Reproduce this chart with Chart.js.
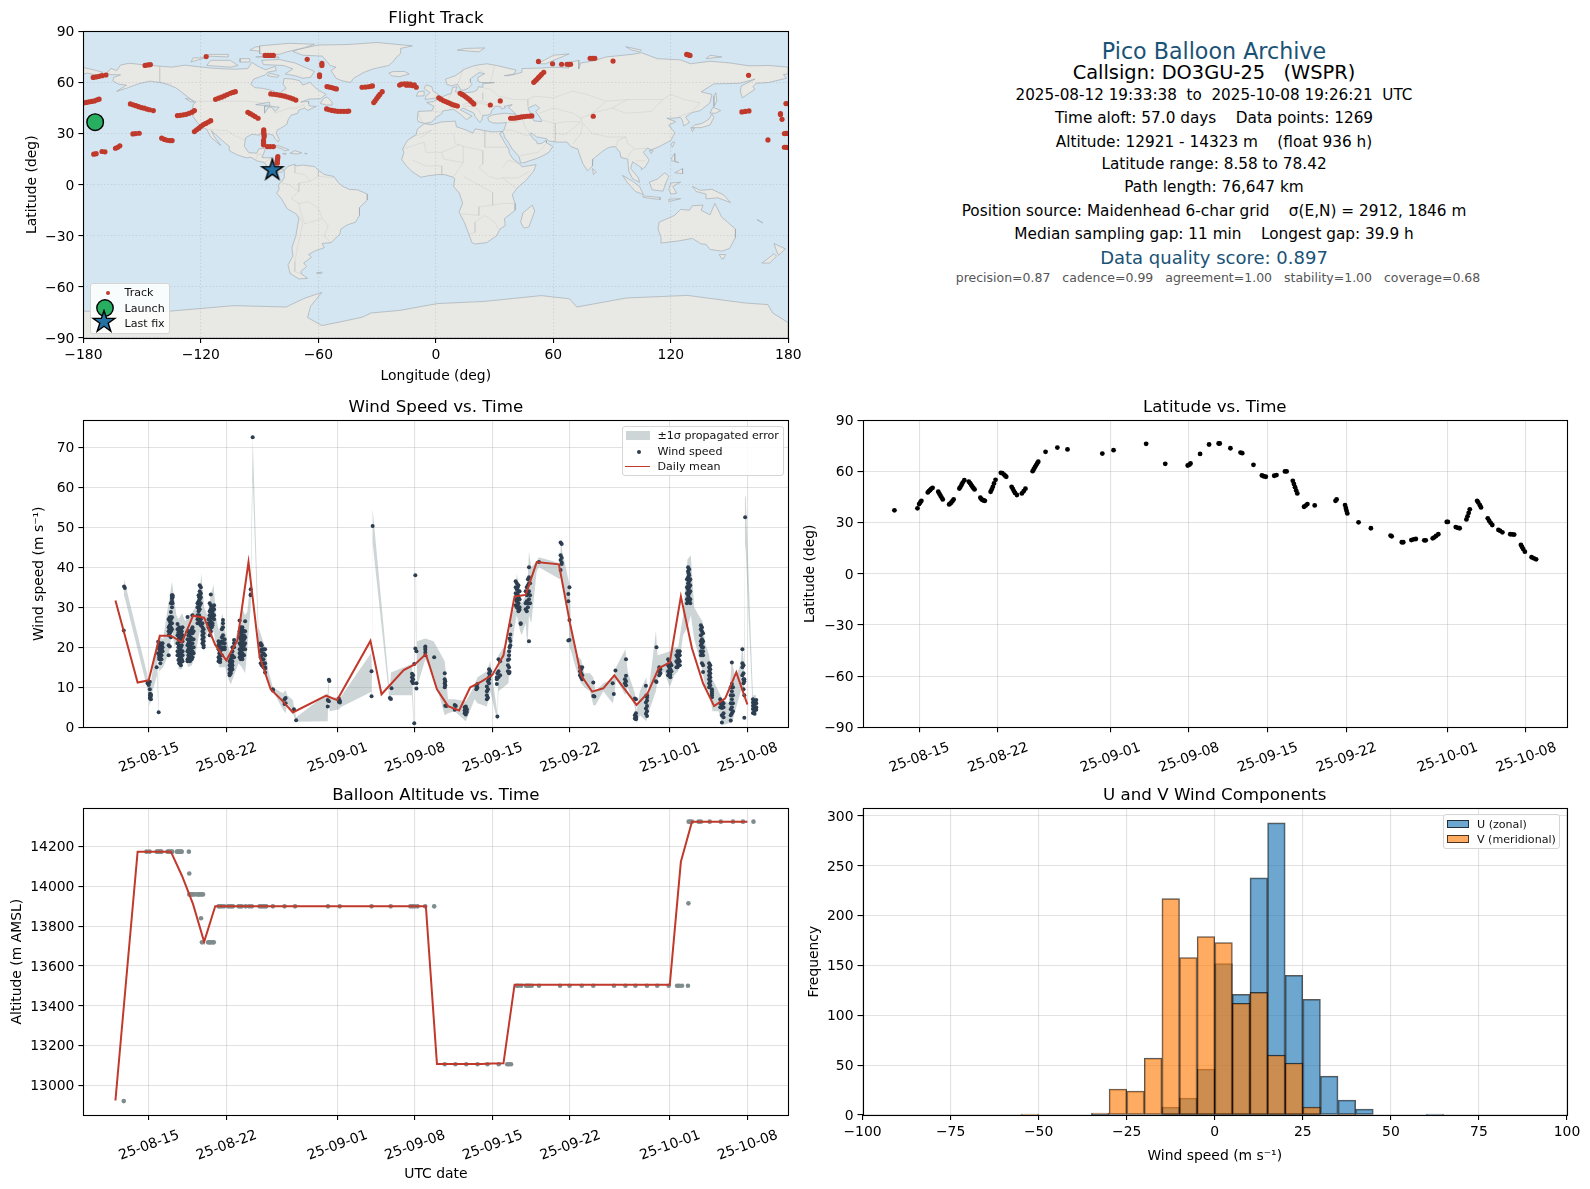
<!DOCTYPE html>
<html><head><meta charset="utf-8">
<script src="https://cdn.jsdelivr.net/npm/chart.js@4/dist/chart.umd.js"></script>
<style>
html,body{margin:0;padding:0;background:#fff;width:1590px;height:1189px;overflow:hidden;font-family:"DejaVu Sans",sans-serif;color:#000}
canvas{position:absolute}
.t{position:absolute;left:1214px;transform:translate(-50%,-50%);white-space:pre;line-height:1}
.legend{position:absolute;background:rgba(255,255,255,.85);border:1px solid #d5d5d5;border-radius:3px;box-sizing:border-box;font-size:11.1px;color:#111}
.legend span{position:absolute;white-space:pre;transform:translateY(-50%);line-height:1}
.legend i,.legend svg{position:absolute;display:block}
</style></head><body>
<canvas id="map"></canvas><canvas id="wind"></canvas><canvas id="lat"></canvas><canvas id="alt"></canvas><canvas id="hist"></canvas>

<div class="t" style="top:50.5px;font-size:22.2px;color:#1a5276">Pico Balloon Archive</div>
<div class="t" style="top:73px;font-size:19.4px">Callsign: DO3GU-25   (WSPR)</div>
<div class="t" style="top:95.5px;font-size:15.2px">2025-08-12 19:33:38  to  2025-10-08 19:26:21  UTC</div>
<div class="t" style="top:118.5px;font-size:15.3px">Time aloft: 57.0 days    Data points: 1269</div>
<div class="t" style="top:143px;font-size:15.3px">Altitude: 12921 - 14323 m    (float 936 h)</div>
<div class="t" style="top:164.5px;font-size:15.3px">Latitude range: 8.58 to 78.42</div>
<div class="t" style="top:188px;font-size:15.3px">Path length: 76,647 km</div>
<div class="t" style="top:212px;font-size:15.3px">Position source: Maidenhead 6-char grid    σ(E,N) = 2912, 1846 m</div>
<div class="t" style="top:235px;font-size:15.3px">Median sampling gap: 11 min    Longest gap: 39.9 h</div>
<div class="t" style="top:257.5px;font-size:18px;color:#1a5276">Data quality score: 0.897</div>
<div class="t" style="top:278px;left:1218px;font-size:12.5px;color:#555">precision=0.87   cadence=0.99   agreement=1.00   stability=1.00   coverage=0.68</div>

<div class="legend" style="left:89.5px;top:283px;width:80px;height:50.5px">
 <svg style="left:14px;top:6px" width="6" height="6"><circle cx="3" cy="3" r="2" fill="#c0392b"/></svg>
 <span style="left:34px;top:9px">Track</span>
 <svg style="left:2px;top:14px" width="24" height="20"><circle cx="12" cy="10" r="8.2" fill="#27ae60" stroke="#000" stroke-width="1.4"/></svg>
 <span style="left:34px;top:24.5px">Launch</span>
 <svg style="left:0px;top:25px" width="26" height="24"><polygon points="13,1.5 15.6,9.4 24,9.4 17.2,14.3 19.8,22.2 13,17.3 6.2,22.2 8.8,14.3 2,9.4 10.4,9.4" fill="#2471a3" stroke="#000" stroke-width="1.4"/></svg>
 <span style="left:34px;top:39.5px">Last fix</span>
</div>
<div class="legend" style="left:621.5px;top:425.5px;width:162px;height:50px">
 <i style="left:3px;top:4.5px;width:24px;height:9px;background:rgba(127,145,150,.38)"></i>
 <span style="left:35px;top:9.5px">±1σ propagated error</span>
 <svg style="left:13px;top:22px" width="6" height="6"><circle cx="3" cy="3" r="2" fill="#2c3e50"/></svg>
 <span style="left:35px;top:25px">Wind speed</span>
 <i style="left:2.5px;top:39px;width:25px;height:1.8px;background:#c0392b"></i>
 <span style="left:35px;top:40.5px">Daily mean</span>
</div>
<div class="legend" style="left:1443px;top:814px;width:116.5px;height:34.5px">
 <i style="left:3px;top:5px;width:22px;height:8px;background:rgba(31,119,180,.65);border:1px solid rgba(0,0,0,.7);box-sizing:border-box"></i>
 <span style="left:33px;top:9.5px">U (zonal)</span>
 <i style="left:3px;top:20px;width:22px;height:8px;background:rgba(255,127,14,.65);border:1px solid rgba(0,0,0,.7);box-sizing:border-box"></i>
 <span style="left:33px;top:24.5px">V (meridional)</span>
</div>

<script>
/* ---------- tick labels ---------- */
const dateTickValues=[0,7,17,24,31,38,47,54];
const dateTickLabels=['25-08-15','25-08-22','25-09-01','25-09-08','25-09-15','25-09-22','25-10-01','25-10-08'];
const mapLonTicks=[-180,-120,-60,0,60,120,180];
const latTicks=[-90,-60,-30,0,30,60,90];
const windTicks=[0,10,20,30,40,50,60,70];
const altTicks=[13000,13200,13400,13600,13800,14000,14200];
const histXTicks=[-100,-75,-50,-25,0,25,50,75,100];
const histYTicks=[0,50,100,150,200,250,300];

/* ---------- histogram ---------- */
const histBins=[-97.5,-92.5,-87.5,-82.5,-77.5,-72.5,-67.5,-62.5,-57.5,-52.5,-47.5,-42.5,-37.5,-32.5,-27.5,-22.5,-17.5,-12.5,-7.5,-2.5,2.5,7.5,12.5,17.5,22.5,27.5,32.5,37.5,42.5,47.5,52.5,57.5,62.5,67.5,72.5,77.5,82.5,87.5,92.5,97.5];
const uCounts=[0,0,0,0,0,0,0,0,0,0,0,0,0,1,0,0,0,8,17,46,152,121,238,293,140,116,39,15,6,0,0,0,1,0,0,0,0,0,0,0];
const vCounts=[0,0,0,0,0,0,0,0,0,1,0,0,0,2,26,24,57,217,158,179,173,112,123,60,52,8,0,1,0,0,0,0,0,0,0,0,0,0,0,0];

/* ---------- daily means ---------- */
const dailyT=[-3,-1,0,1,2,3,4,5,6,7,8,9,10,11,12,13,16,17,20,21,23,24,25,26,27,28,29,30,31,32,33,34,35,37,38,39,40,41,42,43,44,45,46,47,48,49,50,51,52,53,54];
const dailyWind=[31.7,11.2,11.75,22.9,22.9,21.25,27.9,27.4,20.6,16.75,21.7,41.3,17.7,9.5,6.8,3.7,7.9,6.8,21.6,8.25,14.3,15.7,18.3,9.5,5.3,4.2,10,11.4,13.1,18,32.7,33.1,41.3,40.75,26,13,8.9,9.75,13,9.3,5.6,8.5,14.75,16.25,32.7,19.75,11,5.3,7.25,13.75,5.7];
const dailyAlt=[12924,14175,14175,14175,14175,14054,13911,13722,13901,13901,13901,13901,13901,13901,13901,13901,13901,13901,13901,13901,13901,13901,13901,13108,13108,13108,13108,13108,13110,13111,13506,13506,13506,13506,13506,13506,13506,13506,13506,13506,13506,13506,13506,13506,14124,14326,14326,14326,14326,14326,14326];

/* ---------- wind samples: [day, [speeds]] ---------- */
const windCols=[[-2.25,[24.2]],[-2.22,[35.2]],[-2.15,[34.8]],
[-0.1,[11.4,11]],[0,[10.8,10.6]],[0.1,[11.4,9.5]],[0.12,[8.4,8,7.5,7.2]],[0.2,[8.2,7.8,7]],
[0.72,[15]],[0.9,[3.75]],[0.85,[21.4,20,18.5]],[0.95,[20.5,19.5,18,17.5,17]],[1.05,[21,20,19,18.5,17.2,16]],[1.15,[20.5,19.5,18,17]],[1.25,[21,20,19]],
[1.8,[18,20.5,23,25,27,24]],[1.9,[20.2,23.5,24.5,25.5,26.5,27.5]],[2,[22.5,24,25,26,27,27.5,28.8,31]],[2.1,[24.5,26,27.5,30,31.5,32.2,32.8,33]],[2.15,[31,32.5,33,32.8]],
[2.6,[25.8,24.5,23,21,19,18]],[2.68,[23.7,22,20,18,16.8]],[2.75,[25,24,22.5,20.5,18.5,17,16]],[2.83,[23,21.5,19.5,17.5,16]],[2.9,[24.5,23.5,22,20,18.5,17.5,16.5,15.5]],[2.98,[24,22.5,20.5,19,17]],[3.05,[25,23,21.5,19,18,16.5]],
[3.5,[27.6,24,22,20.5,19,17,16.5]],[3.58,[23,21,19.5,18,16.8]],[3.65,[24,23,21.5,20,18.5,17.5]],[3.72,[23.5,22,20.5,19,17.5,16.5]],[3.8,[24,22.5,21,19.5,18,17]],[3.88,[24.5,22,20,18.5,17]],[3.95,[28,25,23.5,21,19,17.5]],[4.05,[24,22,20,18.5]],
[4.4,[27,26,31,30,28]],[4.5,[33,31.5,30,29,27.5,26]],[4.55,[32.5,31,29.5,28,27]],[4.6,[35.5,34,33,32,30.5,29.5,26.5]],[4.7,[35,33.5,32.5,31,27,25.5]],[4.85,[26,25,24,23,22,21]],[4.95,[24.5,23.5,22.5,21.5,20.5,20]],
[5.4,[27,26,25]],[5.5,[31,29,28,27,25.5,24.5,23]],[5.6,[33.2,30.5,29.5,28,26.5,25,24]],[5.68,[30,29,27.5,26,25]],[5.75,[30,29,28.5,27.5,26,25.5]],[5.9,[30.5,29.5,28,27]],
[6.3,[21.5,20.5,19.5,17.5,16.5]],[6.38,[21,20,18.5,17,16.4]],[6.45,[21,20,19,18,17,16.3]],[6.6,[24.5,22.5,21.5,20,18]],[6.7,[26.8,26,25,23,21,19.5]],[6.85,[22,21,20,19.5]],
[7.3,[16.5,15.5,14.5,13.5,13]],[7.4,[18,17,16,15,14,13.5]],[7.48,[17.5,16,15,14.5]],[7.55,[20,19,18,16.5,15.5,14.5]],[7.7,[21.8,21,20,17.5]],
[8.2,[26.7,24,22.5,21,19.5,18.5,17.5]],[8.3,[25,23.5,22,20.5,19,18,17]],[8.38,[24.5,23,21.5,20,18.5,17.5]],[8.45,[25,24.5,23,21.5,20,18.5,17]],[8.52,[24,22.5,21,19.5,18]],[8.6,[24,23,22,20.5,19.5,18]],[8.7,[26.5,24,22.5,21,19.5]],
[9.2,[34.5,33.2,33]],[9.38,[72.5]],
[10.1,[21,20.5,19,17.5,16]],[10.2,[20.5,19.5,18,17,15.5]],[10.35,[19.5,18.5,17,16,15]],[10.5,[19.5,18,16,15,14.7,13.7]],
[11.2,[9.5,9.2]],[12.25,[7,5.8]],[12.35,[7.3,6]],[13.1,[4.5]],[13.3,[1.75]],
[16.15,[6.8,5.2]],[16.25,[11.9,6.5]],[16.3,[11.6]],[17.15,[7.2,6.4]],[17.25,[6.6,6.2]],
[20.1,[14,7.75]],[20.2,[50.3]],[21.75,[7.3]],[21.85,[7.1]],[21.9,[9.75]],
[23.75,[13.4,12.5,11.5]],[23.85,[13,12,11]],[23.95,[1,15.8]],[24.05,[19.7,38]],[24.15,[19,11,9.7]],
[24.95,[20.2,19.8,19.4,18.7,18]],[25.75,[17.5]],
[26.7,[13.5,12,11,10]],[26.75,[11.5,10.5,5.4]],[26.85,[5.3]],[27.6,[5.6,4.4]],[27.7,[5.3]],
[28.5,[5,4.2,3.5]],[28.6,[5.2,4.8,4,3.2]],[28.7,[4.5,3.8]],[29.55,[10.3,9.5]],[29.65,[10.8,9.9]],
[30.5,[10.2,9,8,7]],[30.6,[11.5,9.5,7.4]],[30.7,[14.5,13.5,12.5,12,11]],[30.8,[14,13]],
[31.4,[12.5,12,10.8]],[31.45,[2.7,13.5]],[31.55,[17,14,12.5]],[31.7,[16.5,13]],
[32.4,[15.5,14,16.8]],[32.5,[17,15,13.5,19,18]],[32.55,[22.2,20,13.8]],[32.62,[21.6,20.5,25.5,23.2]],
[33.1,[36.5,35,33.5,32,30.5]],[33.2,[36,34.5,33,31.5,30]],[33.28,[35,33.2,31.8,30.2]],[33.35,[35.5,34,32.5,31,29.5,29]],[33.45,[34,32,30,29.4]],[33.55,[26,25.8]],
[34,[34,31,29.5]],[34.1,[35,33,31.5,29]],[34.2,[37,35.5,33.5,31,30]],[34.3,[40,37.5,36,34,32,21.5]],[34.4,[36,33,31]],
[35.2,[41.3]],[37.15,[46.2,43,41.8,39.3]],[37.25,[45.8,42.4,41.2,40.8]],
[37.85,[33.3,31.5,21.7]],[37.95,[35,26.8,21.8]],
[38.9,[15,14,13]],[39,[14.5,13.5,12.5]],[39.1,[15,13,12]],[40.1,[11.2,7.8]],[40.2,[7.7]],
[41.85,[11]],[41.95,[8.3]],[42.1,[14.2]],[42.95,[12,11]],[43.05,[17,12.9,11.5,10.5]],
[43.85,[7.2,3,2.2]],[43.95,[7,3.5,2.7,2.4,2]],[44.85,[10.4,7.8,6.2,4.7,3.4]],[44.95,[8,7.5,6.7,5.3,4,2.8]],
[45.75,[11.5]],[45.8,[20,11.3]],[46.05,[15,14,13]],[46.15,[14.5,13.5]],
[46.85,[17,15.5,14,13]],[46.95,[16.5,15,13.5,13.2]],[47.05,[16,14.5,13.2,12.5]],[47.15,[15.5,14]],
[47.6,[18,16.5,15]],[47.7,[19,17.5,16,15]],[47.8,[18.5,17,15.5]],[47.9,[19,18,16.5,15.5]],
[48.55,[37,35,33.5,32,31]],[48.65,[40,39,37.5,36,34.5,33,31.5]],[48.7,[38.5,37,35.5,34,32.5]],[48.75,[39.5,38,36.5,35,33.5,31.5]],[48.85,[37,35.5,34,32,31]],
[49.8,[25.5,24.5,23,21.5,20.5,19,18]],[49.9,[25,24,22,21,20,18.5,16]],[50,[23.5,21.5,20,19,18,15.5,13.8]],
[50.55,[16,15,14,13,12,11,10]],[50.65,[15.5,14.5,13.5,12.5,11.5,10.5]],[50.8,[9.5,9,8.5,8,7.5]],
[51.55,[7,6,5]],[51.7,[6.5,5.5,4.8,3,1.2]],[51.85,[6,5,3.5,2.5]],
[52.5,[10,8,6,4.5,3,1.7]],[52.6,[16.2,10.8,9,7,5,3.5]],[52.7,[10,8,6,4]],
[53.55,[19.5,16,15,13]],[53.65,[15.5,13.5,12,11,9.5]],[53.72,[12,11.5,8,2.4]],[53.8,[52.5]],
[54.5,[7,6.2,5.4,4.6,3.6]],[54.65,[6.6,5.8,5,4.2,3.4]],[54.8,[6.8,6,5,4.4]]];

/* ---------- propagated error band: [day, low, high] ---------- */
const bandPts=[[-2.27,18.7,26],[-2.22,33,37],[-0.15,10,13.5],[0.1,5.3,9.5],[0.35,9,14],[0.75,13,21.5],[0.88,2.7,5],[0.95,14,23],[1.3,15,22],[1.75,18,30.5],[1.85,19,32],[2.1,24,36.4],[2.35,20,31],[2.5,21,28],[2.7,14.5,27],[3,14.5,28.5],[3.3,18,26.5],[3.55,15,28],[3.9,15.5,28.5],[4.2,18,30],[4.6,24,34],[4.75,21,38.5],[5,19,30],[5.3,24,28],[5.6,22,33],[5.85,24,35.7],[6.1,20,27],[6.35,15,24],[6.65,15,28.5],[6.9,15,24],[7.2,12,20],[7.4,10.7,18],[7.7,13,21],[8.1,16,25],[8.4,15,30],[8.7,13.5,28],[8.9,20,29],[9.2,30,37],[9.38,62,72.5],[9.9,20,25],[10.5,13,20],[10.8,11,14],[11.2,9,10],[12.1,4.5,8.5],[12.35,3.5,9.3],[12.5,6,8],[13,3.5,6.8],[13.3,1.4,2.5],[16.15,1.5,8.5],[16.2,10,12.8],[16.3,4,7],[17.2,4.5,7.8],[17.3,5,7.5],[20.05,8.8,18.5],[20.12,7,15],[20.2,46,54.5],[21.75,6,8.5],[21.85,8,13.7],[23.75,8,15.8],[23.9,0,2],[24.1,36,39.5],[24.2,10,21.5],[24.95,17,22.2],[25.7,13,21.5],[26.7,3,16.5],[27,3.5,7],[27.6,4,7],[28.6,1.5,6.5],[29.4,7,10.5],[29.65,6,12.5],[30.5,5.2,14],[30.8,9,16.6],[31.45,1.5,3.5],[31.55,9,18],[32,10,20],[32.45,11,18],[32.6,17,27],[33,25,30],[33.2,28,38.5],[33.5,24,33],[33.65,23,31],[34,26,33],[34.15,20,35],[34.3,28,44],[34.5,26,40],[35,39,41.5],[35.2,40,42.5],[37.1,37,41],[37.2,38,47.5],[37.3,36,44],[37.85,30,37],[37.95,20,36],[38.1,19,25],[38.5,15,18],[39,11,17],[39.3,10,13.5],[39.8,9,13.5],[40.1,5.5,12.5],[40.3,5.5,9],[41,9,11],[41.85,6,12],[42,8,13],[42.15,12,15],[43,8,19.5],[43.2,10,14],[43.85,5,8.5],[44,1,4],[44.3,3,9],[44.9,1.5,12.5],[45,3,7],[45.75,9,24],[45.9,12,18],[46.5,14,18.5],[47,10,19],[47.4,13,20],[47.75,14,20],[48.2,23,28],[48.6,25,42],[48.9,28,43],[49.2,22,30],[49.6,18,28],[49.95,14,26.5],[50.2,10,21],[50.55,9,18],[50.85,4,12],[51.4,4,9],[51.75,0.5,7],[52.3,1,6],[52.6,1,17],[52.9,4,12],[53.4,9,16],[53.55,9,21],[53.7,6,15],[53.78,46,58],[53.85,44,57.5],[54.5,3,8],[54.8,3,8]];

/* ---------- latitude samples: [day, lat] ---------- */
const latPts=[[-2.2,37.2],[-0.15,38.4],[0,40.9],[0.1,41.8],[0.2,42.8],[0.77,47.7],[0.87,48.5],[0.97,49],[1.07,49.8],[1.2,50.4],[1.7,48.1],[1.8,47],[1.9,45.8],[2,44.7],[2.1,43.6],[2.67,40.7],[2.77,41.2],[2.87,41.8],[2.97,42.7],[3.07,43.6],[3.58,50],[3.68,51],[3.78,52.2],[3.88,53.5],[4.02,54.9],[4.42,54],[4.52,53.2],[4.62,52.2],[4.72,51.2],[4.82,50.3],[4.93,49.5],[5.45,44.6],[5.55,43.7],[5.65,43.2],[5.75,43],[5.85,42.8],[6.36,48.1],[6.46,49.5],[6.56,51],[6.66,53],[6.8,55.1],[7.27,59.2],[7.4,59],[7.55,58.2],[7.65,57.5],[7.75,56.9],[8.23,51],[8.33,49.8],[8.43,48.5],[8.53,47.4],[8.7,46.2],[9.14,47.1],[9.3,48.4],[9.46,49.9],[10.1,60.2],[10.2,61.3],[10.3,62.5],[10.4,63.6],[10.5,64.7],[10.6,65.7],[11.25,71.5],[12.3,74],[13.2,72.9],[16.3,70.5],[17.3,72.5],[20.2,76.2],[21.9,64.5],[23.9,63.5],[24.05,64],[24.15,64.7],[25,70.3],[25.8,75.8],[26.65,76.4],[26.75,76.4],[27.7,73.6],[28.6,71.1],[28.75,70.7],[29.75,63.9],[30.5,57.7],[30.65,57.2],[30.85,56.9],[31.6,57.5],[31.8,57.9],[32.55,60],[32.7,60],[33.25,54.5],[33.35,52.7],[33.45,50.8],[33.55,48.9],[33.65,47.1],[34.25,39.3],[34.4,40],[34.55,40.9],[35.2,40.1],[37.05,42.8],[37.15,43.6],[37.9,40.3],[37.97,38.6],[38.03,37],[38.1,35.4],[39.1,30.2],[40.2,26.7],[41.95,22.4],[42.05,22],[42.95,18.5],[43.08,18.5],[43.8,19.8],[44,20.2],[44.2,20.4],[44.95,19.6],[45.08,19.6],[45.7,20.8],[45.85,21.4],[46,22.2],[46.2,23.2],[46.95,30.4],[47.05,30.4],[47.75,27.4],[47.95,26.9],[48.1,26.7],[48.7,31.9],[48.8,33.7],[48.9,35.7],[49,37.8],[49.65,42.8],[49.75,41.8],[49.9,40.2],[50,38.9],[50.6,32.5],[50.72,31.1],[50.85,29.9],[51,28.6],[51.55,25.7],[51.7,25.2],[51.9,24.3],[52.6,23.2],[52.8,23.1],[52.95,23],[53.55,16.9],[53.65,15.7],[53.75,14.5],[53.9,13],[54.5,9.7],[54.7,9.1],[54.9,8.5]];

/* ---------- altitude samples: [metres, [days]] ---------- */
const altCols=[[12921,[-2.25]],
[14175,[-0.2,0.08,0.72,0.85,0.94,1.05,1.15,1.7,1.8,1.9,2,2.13,2.55,2.65,2.77,2.88,2.98,3.62]],
[14065,[3.66]],
[13960,[3.66,3.75,3.85,4,4.1,4.35,4.5,4.6,4.75,4.9]],
[13840,[4.72]],
[13719,[4.8,5.36,5.5,5.6,5.75,5.87]],
[13900,[6.3,6.45,6.6,6.8,7.15,7.3,7.45,7.6,8.1,8.25,8.4,8.75,9.06,9.3,10,10.15,10.3,10.45,10.6,11.2,12.25,13.2,16.17,17.23,20.1,21.83,23.6,23.8,24,24.25,24.94,25.75]],
[13106,[26.7,27.66,28.64,29.66,30.55,31.57,32.34,32.5,32.68]],
[13501,[33.2,33.35,33.6,34.04,34.2,34.35,34.55,35.2,37.1,37.96,39.06,40.1,41.96,43,43.9,44.94,45.87,46.9,47.66,47.85,48.1,48.64]],
[13915,[48.68]],
[14326,[48.7,48.85,49,49.6,49.8,50.6,51.6,52.7,53.6,54.55]]];

/* ---------- flight track: [lon, lat] ---------- */
const trackPts=[[-180,47.9],[-178.6,48.3],[-177.2,48.6],[-175.8,48.9],[-174.4,49.2],[-173,49.8],[-172,50.2],
[-175,63],[-173.5,63.3],[-172,63.6],[-170.5,64],[-168.5,64.4],[-148.5,70],[-147,70.3],[-145.8,70.5],
[-156,47.4],[-154.6,46.9],[-153.2,46.4],[-151.8,45.8],[-150.4,45.3],[-149,44.9],[-147.6,44.4],[-146.2,44],[-144.3,43.5],
[-154.7,29.8],[-153.3,30],[-151.5,30.2],[-140,27.3],[-138.6,26.6],[-137.2,26.1],[-135.8,25.9],[-134.7,25.9],
[-174.7,17.9],[-173.5,18.2],[-170.5,19.5],[-169,19.3],[-163.6,21.4],[-162.5,22],[-161.4,22.8],
[-132,40.6],[-130.5,40.7],[-129,41],[-127.5,41.3],[-126,41.9],[-124.5,42.6],[-123.3,43.5],
[-123.3,31.2],[-122.2,32.2],[-121,33.2],[-119.9,34.3],[-118.7,35.3],[-117.5,36],[-116.2,36.8],[-115,37.6],
[-112.5,50.1],[-111,50.8],[-109.5,51.4],[-108,52.1],[-106.5,52.9],[-105,53.7],[-103.7,54.2],[-102.4,54.6],
[-117.3,75.2],[-87.2,75.9],[-85.8,75.9],[-84.4,75.9],[-83,75.9],
[-96,42.5],[-94.8,41.7],[-93.5,40.9],[-92.3,40],[-90.8,39],
[-87.9,32.2],[-87.9,31.2],[-87.9,30.2],[-87.7,29.2],[-87.7,28.2],[-88,26],[-88,25],[-88,24.2],[-88,23.4],[-86,22.4],[-84.6,22.4],[-83,22.4],
[-80.7,16.5],[-80.8,15.5],[-80.9,14.5],[-81,13.5],[-81,12.6],
[-84.3,53.3],[-82.8,53.1],[-81.4,52.9],[-80,52.6],[-78.6,52.3],[-77.2,52],[-75.8,51.5],[-74.4,51],[-73,50.4],[-71.5,49.7],
[-65.7,73.6],[-58.2,71.2],[-58.2,70],[-59.4,64.5],[-59.4,63.5],
[-55.6,57.6],[-54.4,57.3],[-53.2,57],[-52,56.6],[-50.8,56.2],
[-55.8,44.5],[-54.5,44],[-53,43.6],[-51.5,43.3],[-50,43.1],[-48.5,43.1],[-47,43.1],[-45.5,43.1],[-44.5,43.2],
[-37.7,57.2],[-36,57.3],[-34.5,57.5],[-33.2,57.8],[-32.4,58],
[-31.7,48.2],[-31,49.3],[-30.2,50.6],[-29.4,51.8],[-28.6,53],[-27.4,54.6],
[-18.5,58.5],[-17.5,59],[-16,59.2],[-15,58.4],[-14.5,59.2],[-13.5,58.4],[-13,59],[-12,58.2],[-11,58.6],[-10,57.2],
[1.5,51],[2.6,50.2],[3.8,49.4],[5,48.8],[6.2,48.2],[7.4,47.6],[8.6,47],[9.8,46.6],[11,46.2],
[12.4,53.7],[13.4,53],[14.4,52.3],[15.4,51.5],[16.4,50.6],[17.4,49.6],[18.4,48.5],[19.4,47.4],
[27.8,46.8],[32.9,49.2],
[38.2,39],[39.6,39],[41,39.2],[42.4,39.5],[43.8,39.8],[45.2,40],[46.6,40.2],[48,40.3],[49,40.4],
[50,60.1],[50.8,61],[51.6,61.9],[52.4,62.9],[53.2,63.8],[54,64.8],[55.1,66],
[52.4,72.4],[59.6,71],[64.2,70.7],[67,70.7],[68,70.7],[68.8,70.7],[78.8,74.2],[80,74.2],[81.2,74.2],[90.5,72.6],[80.4,40.2],
[128.1,76.5],[129,76.2],[129.8,75.9],[159.7,64.2],[156.3,42.7],[158,43],[159.9,43.3],
[176,41.7],[176,41.2],[176.8,38.4],[169.6,26.3],[178.8,47.6],[180,47.6],[178,30],[179,30.1],[180,30],[178,22],[179,22],[180,21.8]];
const launchPt=[[-174,36.7]];
const lastFixPt=[[-83.5,8.58]];

/* ---------- world shapes: [lon, lat] ---------- */
const landShapes=[
[[-168,65.5],[-166,68.3],[-163,67],[-161,70.3],[-156.5,71.3],[-150,70.5],[-141,69.6],[-135,69],[-128,70.2],[-124,69.6],[-115,68.5],[-108,68],[-102,67.8],[-96,68.2],[-94,71.8],[-90,69],[-87,67.5],[-82,69.5],[-81.5,67],[-86,66],[-87,64.5],[-93,62],[-94.5,59],[-92.5,57],[-88,56.5],[-82.5,55],[-82,52.8],[-79.5,51.3],[-79,54.5],[-76.5,56.5],[-78,59],[-77.5,62.4],[-73,62],[-69.5,61],[-68,58.5],[-65.5,59.5],[-64.5,60.2],[-61.5,57],[-60,55.5],[-56,53],[-59,50.5],[-65,50.2],[-69,48.5],[-65,49],[-65,47.5],[-64.5,46.2],[-61,46],[-65.5,43.6],[-67,45],[-70,43.8],[-70.5,42],[-74,40.7],[-75.5,38],[-76,35.5],[-78,34],[-81,32],[-81.5,30.5],[-80,26.5],[-80.5,25.2],[-82,26.7],[-83,29],[-85,29.7],[-89.5,30.2],[-90,29.1],[-94,29.6],[-97.2,27.5],[-97.8,22.5],[-95.5,18.8],[-91.5,18.5],[-90.5,21],[-87,21.5],[-88,18],[-88.8,15.9],[-84,15.8],[-83.3,11.5],[-82.5,9],[-79.5,9.5],[-77.5,8.5],[-78.5,7.5],[-80.5,7.3],[-83,8.2],[-85.7,10],[-87.5,13],[-91.5,14],[-94.5,16.2],[-96.5,15.7],[-101.5,17.5],[-105.5,20],[-105.5,22.5],[-109,25.8],[-112.5,29.5],[-114.7,31.7],[-113,28],[-109.8,23],[-112,25],[-115,28],[-117,32.5],[-120.5,34.5],[-124,40],[-124.5,43],[-124,47],[-122.5,48.5],[-125,50],[-130,54.5],[-133,57],[-137,58.8],[-140,59.8],[-146,60.8],[-152,59.2],[-157,57],[-163,54.8],[-158,58.5],[-162,59],[-165,61],[-164.5,63],[-161,64.5],[-166,64.6],[-168,65.5]],
[[-80,73.5],[-72,71.5],[-67,69],[-62,66.5],[-64,63],[-68,62.5],[-72,64],[-77,65],[-73,68],[-78,70],[-88,70.5],[-89,73],[-80,73.5]],
[[-117,70],[-105,69],[-101,70],[-105,73],[-115,73],[-117,70]],
[[-90,77],[-80,76.5],[-76,78],[-67,80.5],[-62,82.5],[-75,83],[-90,81.5],[-90,77]],
[[-125,72],[-118,74.5],[-124,74.5],[-125,72]],[[-92,75],[-80,74.5],[-82,76],[-92,75]],[[-117,75.5],[-106,75],[-106,76.5],[-116,76.5],[-117,75.5]],[[-95,79],[-87,78],[-87,81],[-92,81],[-95,79]],[[-100,72],[-95,72],[-95,74],[-100,74],[-100,72]],
[[-85,65.5],[-80,64],[-81,63],[-86,64],[-85,65.5]],
[[-59,47.7],[-56,46.8],[-53,46.7],[-53,48.5],[-55.5,51.5],[-57.5,50.5],[-59,47.7]],
[[-85,21.9],[-80.5,23],[-75,20.5],[-77.5,19.9],[-78,20.7],[-82,22.5],[-85,21.9]],
[[-74.4,18.5],[-72,20],[-68.5,18.7],[-71,18],[-74.4,18.5]],[[-78.3,18.3],[-76.3,18.2],[-77,17.8],[-78.3,18.3]],[[-67,18.4],[-65.7,18.3],[-66.5,18],[-67,18.4]],
[[-128,50.7],[-125,50],[-123.5,48.4],[-125.5,48.8],[-128,50.7]],
[[-73,78.2],[-68,76],[-58,75.5],[-54,70],[-51,69],[-53.5,67],[-51,62.5],[-48,61],[-43.5,60],[-42,62.5],[-37,65.8],[-32,68],[-24,70],[-22,72],[-20,75],[-18,77],[-18,80],[-12,81.5],[-30,83.5],[-45,82.3],[-60,82],[-66,80.5],[-70,79.5],[-73,78.2]],
[[-24,65.5],[-22,66.4],[-16,66.5],[-13.6,65],[-18.5,63.4],[-22.5,63.9],[-24,65.5]],
[[-77.3,8.5],[-75.5,10.8],[-72,12],[-71.5,11],[-68,11.5],[-62,10.7],[-60,8.5],[-57,6],[-52,4.8],[-50,1.5],[-48,-0.7],[-44,-2.8],[-40,-3],[-35,-5.5],[-35,-9],[-39,-13.5],[-39,-18],[-41,-22],[-45,-23.5],[-48.5,-26],[-49,-29],[-53.5,-34],[-58,-34.5],[-57,-37],[-62,-39],[-65,-41],[-63.5,-42.5],[-67.5,-46],[-66,-48],[-69,-51],[-68.5,-52.5],[-65.5,-55],[-70,-55.3],[-74.5,-52],[-75.5,-47],[-73,-42],[-73.5,-37],[-71.5,-30],[-70,-20],[-71,-17.5],[-76,-14],[-79,-8],[-81.3,-5],[-80,-2.5],[-80.5,0],[-78.5,2],[-77.5,4],[-77.5,7],[-77.3,8.5]],
[[-61,-51.8],[-58,-51.3],[-58.5,-52.2],[-61,-51.8]],
[[-6,35.8],[-2,35.2],[3,36.9],[10,37.3],[10.5,34],[15,32.3],[19,30.3],[20,32.8],[25,31.7],[29,31],[32.5,31.2],[34.2,31.3],[32.5,30],[34,27],[35.5,24],[37.2,21],[37.5,18.5],[39.5,15],[43,12],[44,10.5],[51.2,11.8],[50,8],[46,2.5],[41.5,-2],[39,-6],[40.5,-11],[40.5,-15],[35,-20],[35.5,-24],[32.8,-26],[31,-30],[26,-34],[20,-34.8],[18.4,-34],[17,-29.5],[14.5,-22],[11.8,-16],[13.7,-11],[12,-5],[9,-1],[9.7,3.5],[8.5,4.5],[5,5.8],[1,6],[-4,5.2],[-7.7,4.4],[-12,7.5],[-15,11],[-17.5,14.7],[-16.3,19],[-17,21],[-14.5,26],[-10,29.5],[-9.5,32.5],[-6,35.8]],
[[49.3,-12],[50.5,-15.5],[47.5,-24.8],[45,-25.5],[43.3,-22],[44.5,-16.5],[49.3,-12]],
[[-9,37],[-9.5,38.7],[-9,43],[-2,43.4],[-1,46],[-4.7,48.3],[-1.5,48.7],[1.5,50.5],[4,52],[8,53.7],[8.5,57],[10.7,57.5],[10,54.5],[14,54],[19,54.4],[21,55.5],[21.7,57.5],[24,57.2],[24,59.3],[28,59.6],[30,60],[23,60],[21.3,61],[21.5,63],[25,65.2],[22,65.8],[17.5,62],[17.7,60],[18.5,59],[16.5,56.5],[14.2,55.5],[12.8,55.6],[11,59],[8,58],[5.5,59],[5,62],[10,64],[15,68],[20,70],[26,71],[31,70],[41,67.3],[40,65],[35,64],[37,64],[40,64.7],[44,66],[44,68.2],[54,68.5],[60,69],[68,68.5],[67,71.5],[73,73],[73,68],[74,71.5],[80,72.5],[87,75],[100,76.5],[105,77.5],[113,74],[125,73.3],[130,71],[140,72.5],[150,71.5],[160,69.8],[170,70],[180,69],[180,65],[177.5,64.7],[179,62.5],[170,60],[163.5,59.5],[162,57.5],[163,56],[156.5,51],[155.5,55],[156,58],[163,62],[155,59.5],[142,59.2],[135.5,54.5],[141,53],[140,48],[135,43.5],[130.7,42.3],[127.5,39.7],[129.5,36.5],[126.5,34.5],[126,37.5],[125,39.5],[121,39],[118,39],[122.5,37],[119,35],[122,30.5],[120,26],[114,22.3],[110,20.5],[108,21.5],[106,19],[109,14.5],[107,10.5],[105,8.8],[105,10],[100.5,13.5],[99.5,9.5],[103.5,4],[104,1.4],[100.5,3.5],[98.5,8],[98,15],[94.5,16],[94,19],[91.5,22.5],[88,21.7],[85,19.5],[80.2,15],[80,11],[77.5,8.1],[75,12.5],[73,19],[72.5,21],[69,22.3],[67,25],[61.5,25],[57.5,25.7],[56.5,27],[51.5,28],[48.8,30.3],[48,29.8],[50,26.5],[51.5,25.5],[51.8,24],[54,24.2],[56.3,26],[56.5,24.5],[59.8,22.5],[57.7,19],[55,17.2],[52,15.6],[45,12.9],[43.3,12.7],[42.5,16.5],[39,21],[37,25],[35,28],[34.8,29.5],[34,31],[35,32.8],[36,36.5],[32,36.1],[29,36.3],[27,37.5],[26.5,39.5],[29,41],[35,42],[41,41.3],[38,44.5],[37,45.3],[39,47],[35,46],[35.5,45],[33.5,44.5],[33,46],[30.5,46],[28.5,43.5],[28,41.5],[26,40.8],[24,40.7],[23.5,38],[22.5,36.5],[20,40],[19.5,42],[14,45],[12.5,44],[18.5,40.2],[16.5,39],[15.8,38],[12.5,41.5],[9,44.3],[3.5,43.3],[3,41.5],[0,39.5],[-2,36.8],[-5.5,36],[-9,37]],
[[-180,68.8],[-175,67.5],[-170,66],[-173,64.3],[-178,65.5],[-180,65],[-180,68.8]],
[[-5.5,50],[1.5,51.2],[1.5,52.8],[-1.5,55],[-2,57.5],[-5,58.6],[-6,56.5],[-3,54],[-5,52],[-5.5,50]],[[-10,52],[-6,52.2],[-6,55],[-9,54.5],[-10,52]],
[[11,79],[22,78],[25,80.3],[15,80],[11,79]],[[52,71],[56,71],[68,76.8],[60,76],[52,71]],[[100,79],[104,78],[105,79],[97,81],[100,79]],[[138,74],[146,75],[140,76],[138,74]],
[[142,46],[143.5,49],[143,54],[142,52],[142,46]],[[130.8,33.5],[135.5,33.5],[140,35],[142,39.5],[141,41.5],[139.5,38.5],[136,36],[132,35],[130.8,33.5]],[[130.2,33.5],[132,33],[131,31.2],[130.2,33.5]],[[140,42],[141.5,45.5],[145.5,43.5],[143,42],[140,42]],
[[121,25],[122,25],[120.8,22],[120,23.5],[121,25]],[[109,20],[111,20],[110,18.3],[109,20]],[[80,9.5],[82,7.5],[80.5,6],[80,9.5]],
[[120.5,16],[122,18.3],[122,14],[124,13],[120.5,14],[120.5,16]],[[122,7],[126,9.5],[126,6.5],[122,7]],
[[109,1.5],[113,3.2],[117,7],[119,5],[117.5,1],[116,-3.8],[110.5,-3],[109,1.5]],[[95.3,5.5],[100.5,2],[104,-1],[106,-5.8],[102,-4],[98,1],[95.3,5.5]],[[105.5,-6.5],[114.5,-7.5],[114.5,-8.7],[106,-7.5],[105.5,-6.5]],[[120,1],[125,1.5],[121,-1],[123,-5],[120,-5.5],[119,-3],[120,1]],[[119,-8.5],[125,-8.2],[119,-10],[119,-8.5]],
[[131,-1],[135,-3.3],[141,-2.7],[147,-6],[150.5,-10.5],[144,-7.7],[138,-8.3],[138,-5.5],[133,-4],[131,-1]],
[[114,-22],[122,-18],[125,-14.5],[129.5,-15],[131,-12.3],[136.5,-12],[135.5,-15],[140,-17.7],[142.5,-11],[146,-19],[153,-26],[153,-31],[150,-37.5],[146,-39],[140,-38],[138,-35],[135.5,-34.8],[131,-31.5],[124,-33],[115,-34.3],[115,-31],[113.5,-26],[114,-22]],
[[144.7,-41],[148,-41],[147,-43.5],[146,-43.5],[144.7,-41]],[[172.7,-34.5],[178.5,-37.7],[175,-41.5],[174,-39],[172.7,-34.5]],[[172.7,-40.5],[174,-42],[170.5,-46],[166.5,-46],[170,-43],[172.7,-40.5]],[[165,-21],[167,-22.5],[164,-20.5],[165,-21]],
[[-180,-74.3],[-136.6,-74.3],[-103,-71],[-76.3,-71.8],[-74,-70.4],[-66.7,-66.5],[-58.2,-63.2],[-64,-71.4],[-65.5,-78],[-58.2,-82.7],[-47.4,-80.2],[-37.7,-77.8],[-33,-75.3],[-18.5,-73.8],[0.8,-69.8],[24.9,-68.5],[53.9,-65.1],[68.3,-67],[72,-71.8],[97.3,-66.5],[128.6,-65],[157.5,-69.4],[169.6,-70.4],[172,-75.3],[180,-81],[180,-90],[-180,-90],[-180,-74.3]]];
const waterShapes=[[[47,45],[51,47],[53,45],[51,43],[53.5,39],[54,37],[50,37.5],[49,40.5],[47,45]],[[-92,47],[-85,48.5],[-84.7,46.5],[-88,46.5],[-92,47]],[[-87.5,42],[-85,46],[-80,45.5],[-82,43],[-84,45.5],[-87.5,46],[-87.5,42]]];
const borderLines=[
[[-123,49],[-95,49],[-89,48],[-83,46],[-82.5,42],[-79,43.2],[-75,45],[-71,45],[-67.5,47],[-67,45]],[[-141,69.6],[-141,60],[-135,59]],[[-117,32.5],[-106.5,31.7],[-103,29],[-97.2,26]],[[-92,14.5],[-91,17.8],[-89,17.8],[-88.5,16]],[[-87.5,13],[-84,15.8]],[[-85.7,11],[-83.7,11]],
[[-52,4],[-60,5],[-64,2],[-70,1],[-70,-4],[-74,-8],[-70,-11],[-65,-10],[-60,-14],[-58,-20],[-55,-24],[-57,-30],[-53.5,-34]],[[-70,-18],[-68,-23],[-70,-33],[-72,-45],[-72,-51],[-68.5,-52.5]],[[-72,12],[-72,7],[-67,6],[-64,2]],[[-78.5,1],[-75,0],[-70,-4]],[[-70,-11],[-69,-16],[-67,-23],[-58,-20]],[[-60,8.5],[-60,5]],
[[-8,27.5],[-2,32],[-13,27.7]],[[9,30],[10,24],[12,23.5],[14,22.5],[24,20]],[[25,31.7],[25,22],[36.8,22]],[[24,20],[24,12],[22,10],[27,5],[31,3.5],[34,4],[41,-2]],[[-17,21],[-6,25],[-5,19],[3,19],[12,23.5]],[[3,19],[4,15],[14,13],[14,22.5]],[[-12,14.5],[-5,11],[3,11],[3,6]],[[14,13],[9,4.5]],[[14,5],[17,3],[29,-4.5],[29,-12],[22,-13],[22,-18],[13,-17]],[[29,-12],[34,-11],[40,-11]],[[25,-18],[20,-22],[20,-28],[17,-29]],[[25,-18],[30,-22],[32,-26]],[[34,10],[37,14.5],[43,12]],[[34,4],[42,4],[48,8]],
[[-2,43.3],[3,42.5]],[[-9,42],[-7,37]],[[2.5,51],[8,49],[7,44]],[[8,53.5],[6,50],[8,48]],[[14,54],[15,51],[17,49],[24,49],[30,46]],[[13.5,47],[17,48],[22,48]],[[14,46],[19,46],[22,44],[23,41]],[[22,48],[30,46]],[[24,54],[24,50]],[[14,69],[12,61],[11,59]],[[20,69],[24,66]],[[30,70],[28,60]],[[24,57],[28,56],[32,52],[40,50],[47,50],[47,46]],[[47,50],[50,52],[60,51],[70,55],[77,53],[87,49],[98,50],[107,50],[116,50],[120,53],[127,50],[135,48],[131,43]],[[87,49],[80,42],[74,39],[75,36],[80,30],[88,28],[97,28],[98,24],[102,21],[108,21.5]],[[98,50],[90,45],[80,42]],[[116,50],[110,43],[97,42],[90,45]],[[53,42],[60,45],[70,42],[74,39]],[[54,38],[61,36],[66,37],[74,37]],[[61,36],[61,25]],[[61,30],[66,29.5],[70,33],[74,37]],[[70,24],[74,30],[75,36]],[[44,39],[46,33],[48.5,30]],[[36,36.5],[42,37],[44,39]],[[35,32],[39,32],[46,29],[48,29]],[[43,17],[52,19],[55,22],[56,24]],[[92,22],[93,26],[97,28]],[[98,16],[100,20],[102,21]],[[102,14],[107,14]],[[124,40],[130,42.5]]];

/* ---------- helpers ---------- */
const FONT='"DejaVu Sans"';
Chart.defaults.font.family=FONT;
Chart.defaults.font.size=13.9;
Chart.defaults.color='#000';
Chart.defaults.animation=false;
const GRID='rgba(176,176,176,.36)';
const pts=a=>a.map(p=>({x:p[0],y:p[1]}));

/* a closed shape dataset is filled along its own scaled points; the frame and map sea use the chart area */
const shapeFill={id:'shapeFill',beforeDatasetDraw(chart,args){
  const ds=chart.data.datasets[args.index];
  if(!ds.shapeFill)return;
  const c=chart.ctx,d=args.meta.data;
  c.save();c.beginPath();
  d.forEach((e,i)=>i?c.lineTo(e.x,e.y):c.moveTo(e.x,e.y));
  c.closePath();c.fillStyle=ds.shapeFill;c.fill();c.restore();
}};
const frame={id:'frame',
  beforeDraw(chart,a,o){if(!o.sea)return;const r=chart.chartArea,c=chart.ctx;c.save();c.fillStyle=o.sea;c.fillRect(r.left,r.top,r.width,r.height);c.restore();},
  afterDraw(chart){const r=chart.chartArea,c=chart.ctx;c.save();c.strokeStyle='#000';c.lineWidth=1.1;c.strokeRect(Math.round(r.left)+.5,Math.round(r.top)+.5,Math.round(r.right)-Math.round(r.left),Math.round(r.bottom)-Math.round(r.top));c.restore();}};
Chart.register(shapeFill,frame);

function axis(o,isY){
  return {type:'linear',min:o.min,max:o.max,offset:false,
    grid:{color:o.gridColor||GRID,lineWidth:1.1,tickColor:'#000',tickLength:5,tickWidth:1.1,z:o.gridZ||0,offset:false},
    border:{display:false,dash:o.dash||[]},
    afterBuildTicks:s=>{s.ticks=o.ticks.map(v=>({value:v}));},
    afterFit:s=>{if(o.size!==undefined){if(s.isHorizontal())s.height=o.size;else s.width=o.size;}},
    ticks:Object.assign({autoSkip:false,padding:4,maxRotation:0,minRotation:0,color:'#000',labelOffset:isY?1.2:0,
      callback:(v)=>String(v).replace('-','\u2212')},o.tickOpts||{}),
    title:o.title?{display:true,text:o.title,font:{size:13.9,lineHeight:1},padding:o.titlePad,color:'#000'}:{display:false}
  };
}
function timeTicks(){return {minRotation:20,maxRotation:20,labelOffset:30,padding:7,callback:(v)=>dateTickLabels[dateTickValues.indexOf(v)]};}

function make(id,plot,m,title,opts){
  const cv=document.getElementById(id);
  const cl=Math.floor(plot.l-m.L),ct=Math.floor(plot.t-m.T);
  const W=Math.ceil(plot.r+m.R-cl),H=Math.ceil(plot.b+m.B-ct);
  cv.width=W;cv.height=H;cv.style.left=cl+'px';cv.style.top=ct+'px';
  const leftW=plot.l-cl,bottomH=H-(plot.b-ct),topH=plot.t-ct,titlePadB=4.5,titleH=16.67+titlePadB;
  const sx=opts.x,sy=opts.y;
  sx.size=bottomH;sy.size=leftW;
  if(sy.titleCx!==undefined)sy.titlePad={top:sy.titleCx-cl-6.95,bottom:0};
  if(sx.titleCy!==undefined)sx.titlePad={top:0,bottom:H-(sx.titleCy-ct)-6.95};
  return new Chart(cv,{type:opts.type||'scatter',data:{datasets:opts.datasets},options:{
    responsive:false,animation:false,devicePixelRatio:1,
    layout:{padding:{left:0,top:topH-titleH,right:W-(plot.r-cl),bottom:0}},
    plugins:{legend:{display:false},tooltip:{enabled:false},frame:{sea:opts.sea},
      title:{display:true,text:title,fullSize:false,color:'#000',font:{size:16.67,weight:'normal',lineHeight:1},padding:{top:0,bottom:titlePadB}}},
    scales:{x:axis(sx,false),y:axis(sy,true)}}});
}
function starImage(R,fill,stroke,lw){
  const s=Math.ceil(2*R+6),c=document.createElement('canvas');c.width=c.height=s;
  const g=c.getContext('2d');g.beginPath();
  for(let i=0;i<10;i++){const r=i%2?R*0.382:R,a=-Math.PI/2+i*Math.PI/5,x=s/2+r*Math.cos(a),y=s/2+r*Math.sin(a);i?g.lineTo(x,y):g.moveTo(x,y);}
  g.closePath();g.fillStyle=fill;g.fill();g.lineWidth=lw;g.strokeStyle=stroke;g.lineJoin='miter';g.stroke();return c;
}
const noPt={pointRadius:0,pointHoverRadius:0};
const lineDs=(a,color,w,order,extra)=>Object.assign({type:'line',data:pts(a),borderColor:color,borderWidth:w,showLine:true,tension:0,order:order,spanGaps:true},noPt,extra||{});
const dotDs=(a,color,r,order)=>({data:pts(a),backgroundColor:color,borderWidth:0,pointRadius:r,pointHoverRadius:r,showLine:false,order:order});

/* ---------- Flight Track ---------- */
make('map',{l:83.4,t:31.4,r:788.3,b:338},{L:83,T:31,R:40,B:44.3},'Flight Track',{
  sea:'#d4e6f1',
  x:{min:-180,max:180,ticks:mapLonTicks,title:'Longitude (deg)',titleCy:376.3,gridColor:'rgba(120,120,120,.18)',gridZ:1,dash:[1.5,2]},
  y:{min:-90,max:90,ticks:latTicks,title:'Latitude (deg)',titleCx:32.4,gridColor:'rgba(120,120,120,.18)',gridZ:1,dash:[1.5,2]},
  datasets:[
    ...landShapes.map(s=>lineDs(s,'rgba(165,172,178,.85)',0.8,9,{shapeFill:'#e8e8e4'})),
    ...waterShapes.map(s=>lineDs(s,'rgba(165,172,178,.85)',0.8,8,{shapeFill:'#d4e6f1'})),
    ...borderLines.map(s=>lineDs(s,'rgba(185,185,185,.45)',0.6,7)),
    dotDs(trackPts,'#c0392b',2.6,3),
    {data:pts(launchPt),pointRadius:8.3,pointHoverRadius:8.3,backgroundColor:'#27ae60',borderColor:'#000',borderWidth:1.4,order:2},
    {data:pts(lastFixPt),pointStyle:starImage(11,'#2471a3','#000',1.4),pointRadius:11,order:1}
  ]});

/* ---------- Wind Speed ---------- */
const windPts=windCols.flatMap(c=>c[1].map(v=>[c[0],v]));
make('wind',{l:83.4,t:420.3,r:788.3,b:727.3},{L:83,T:30,R:40,B:55},'Wind Speed vs. Time',{
  x:{min:-5.89,max:57.69,ticks:dateTickValues,tickOpts:timeTicks()},
  y:{min:0,max:76.75,ticks:windTicks,title:'Wind speed (m s\u207B\u00B9)',titleCx:39.5},
  datasets:[
    lineDs(bandPts.map(b=>[b[0],b[2]]),'rgba(0,0,0,0)',0,4,{fill:'+1',backgroundColor:'rgba(127,145,150,.38)'}),
    lineDs(bandPts.map(b=>[b[0],b[1]]),'rgba(0,0,0,0)',0,4),
    dotDs(windPts,'#2c3e50',2,2),
    lineDs(dailyT.map((t,i)=>[t,dailyWind[i]]),'#c0392b',2,1)
  ]});

/* ---------- Latitude ---------- */
make('lat',{l:862.5,t:420.3,r:1567,b:727.3},{L:72,T:30,R:22,B:55},'Latitude vs. Time',{
  x:{min:-5.04,max:57.65,ticks:dateTickValues,tickOpts:timeTicks()},
  y:{min:-90,max:90,ticks:latTicks,title:'Latitude (deg)',titleCx:810.5},
  datasets:[dotDs(latPts,'#000',2.4,1)]});

/* ---------- Altitude ---------- */
const altPts=altCols.flatMap(c=>c[1].map(t=>[t,c[0]]));
make('alt',{l:83.4,t:808.3,r:788.3,b:1115},{L:83,T:30,R:40,B:66},'Balloon Altitude vs. Time',{
  x:{min:-5.89,max:57.69,ticks:dateTickValues,tickOpts:timeTicks(),title:'UTC date',titleCy:1174.4},
  y:{min:12851,max:14393,ticks:altTicks,title:'Altitude (m AMSL)',titleCx:17.2},
  datasets:[
    dotDs(altPts,'#7f8c8d',2.3,2),
    lineDs(dailyT.map((t,i)=>[t,dailyAlt[i]]),'#c0392b',2,1)
  ]});

/* ---------- Histogram ---------- */
const barDs=(label,counts,color,order)=>({type:'bar',label,data:histBins.map((b,i)=>({x:b,y:counts[i]})),backgroundColor:color,borderColor:'rgba(0,0,0,.65)',borderWidth:1.1,borderSkipped:false,barPercentage:1,categoryPercentage:1,grouped:false,order});
make('hist',{l:862.5,t:808.3,r:1567,b:1115},{L:72,T:30,R:22,B:50},'U and V Wind Components',{
  type:'bar',
  x:{min:-100,max:100,ticks:histXTicks,title:'Wind speed (m s\u207B\u00B9)',titleCy:1156},
  y:{min:0,max:307.65,ticks:histYTicks,title:'Frequency',titleCx:814.4},
  datasets:[barDs('U (zonal)',uCounts,'rgba(31,119,180,.65)',2),barDs('V (meridional)',vCounts,'rgba(255,127,14,.65)',1)]});
</script>
</body></html>
